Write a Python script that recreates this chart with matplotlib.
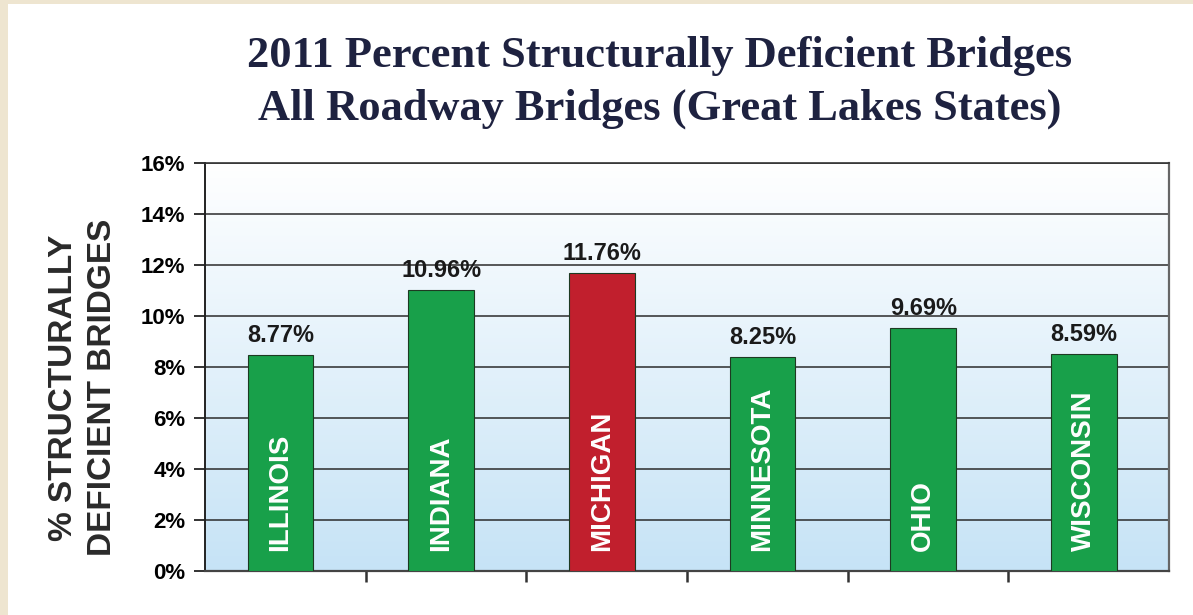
import numpy as np
import matplotlib
matplotlib.use('Agg')
import matplotlib.pyplot as plt
from matplotlib.colors import LinearSegmentedColormap
from matplotlib.patches import Rectangle

# data
states = ['ILLINOIS', 'INDIANA', 'MICHIGAN', 'MINNESOTA', 'OHIO', 'WISCONSIN']
pct_labels = [8.77, 10.96, 11.76, 8.25, 9.69, 8.59]
bar_heights = [8.47, 11.02, 11.69, 8.39, 9.53, 8.51]  # as drawn in the picture
bar_colors = ['#18a04a', '#18a04a', '#c11f2d', '#18a04a', '#18a04a', '#18a04a']
yticks = [0, 2, 4, 6, 8, 10, 12, 14, 16]

fig = plt.figure(figsize=(11.93, 6.15), dpi=100, facecolor='#eee5d0')
# white slide area
fig.patches.append(Rectangle((8/1193, 0), 1, 1 - 4/615, transform=fig.transFigure,
                             facecolor='white', edgecolor='none', zorder=-10))

ax = fig.add_axes([205/1193, 1 - 571/615, (1169 - 205)/1193, (571 - 163)/615])

# gradient background white -> light blue
cmap = LinearSegmentedColormap.from_list('bg', ['#c6e3f6', '#ffffff'])
grad = np.linspace(0, 1, 256).reshape(-1, 1)
ax.imshow(grad, cmap=cmap, aspect='auto', extent=[0, 1, 0, 1],
          transform=ax.transAxes, origin='lower', zorder=0)

x = np.arange(len(states))
ax.bar(x - 0.03, bar_heights, width=0.41, color=bar_colors,
       edgecolor='#1d3a22', linewidth=0.8, zorder=3)

for i, (h, lab, name) in enumerate(zip(bar_heights, pct_labels, states)):
    ax.text(i - 0.03, h + 0.3, f'{lab:.2f}%', ha='center', va='bottom',
            fontsize=17, fontweight='bold', color='#1a1a1a', zorder=4,
            family='Liberation Sans')
    ax.text(i - 0.03, 0.8, name, ha='center', va='bottom', rotation=90,
            fontsize=20, fontweight='bold', color='white', zorder=4,
            family='Liberation Sans')

ax.set_xlim(-0.5, len(states) - 0.5)
ax.set_ylim(0, 16)
ax.set_yticks(yticks)
ax.set_yticklabels([f'{t}%' for t in yticks], fontsize=16, fontweight='bold',
                   family='Liberation Sans')
ax.yaxis.grid(True, color='#2b2b2b', linewidth=1.1, zorder=1)
ax.set_axisbelow(True)
ax.set_xticks(np.arange(0.5, len(states) - 0.5, 1))
ax.set_xticklabels([])
ax.tick_params(axis='y', length=8, width=1.3, color='#222222', pad=6)
ax.tick_params(axis='x', length=8, width=1.8, color='#333333', direction='out')

ax.spines['left'].set_color('#222222')
ax.spines['left'].set_linewidth(1.4)
ax.spines['bottom'].set_color('#444444')
ax.spines['bottom'].set_linewidth(1.6)
ax.spines['right'].set_color('#666666')
ax.spines['right'].set_linewidth(1.6)
ax.spines['top'].set_color('#333333')
ax.spines['top'].set_linewidth(1.2)

ax.set_ylabel('% STRUCTURALLY\nDEFICIENT BRIDGES', fontsize=24, fontweight='bold',
              family='Liberation Sans', color='#2a2a2a', linespacing=1.35)
ax.yaxis.set_label_coords(-0.09, 0.45)

fig.text(660/1193, 1 - 56/615, '2011 Percent Structurally Deficient Bridges',
         ha='center', va='center', fontsize=32, fontweight='bold',
         family='Liberation Serif', color='#1e2240')
fig.text(660/1193, 1 - 109/615, 'All Roadway Bridges (Great Lakes States)',
         ha='center', va='center', fontsize=32, fontweight='bold',
         family='Liberation Serif', color='#1e2240')

fig.savefig('out.png', dpi=100, facecolor=fig.get_facecolor())
